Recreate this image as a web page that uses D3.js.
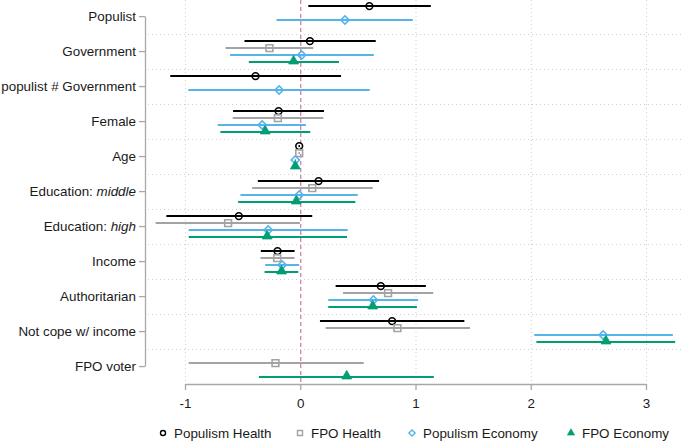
<!DOCTYPE html>
<html>
<head>
<meta charset="utf-8">
<script src="https://cdn.jsdelivr.net/npm/d3@7"></script>
<style>
  html, body { margin: 0; padding: 0; background: #fff; }
  svg { display: block; font-family: "Liberation Sans", Arial, sans-serif; }
</style>
</head>
<body>
<svg id="chart" width="685" height="441"></svg>
<script>
// ---- Data ----
const categories = ["Populist", "Government", "populist # Government", "Female", "Age",
  "Education: middle", "Education: high", "Income", "Authoritarian", "Not cope w/ income", "FPO voter"];
const seriesNames = ["Populism Health", "FPO Health", "Populism Economy", "FPO Economy"];
const xTicks = [-1, 0, 1, 2, 3];

const popHealthEst = [0.600, 0.084, -0.388, -0.188, -0.009, 0.159, -0.533, -0.197, 0.699, 0.797, null];
const popHealthLo  = [0.070, -0.484, -1.128, -0.583, -0.016, -0.368, -1.162, -0.342, 0.307, 0.171, null];
const popHealthHi  = [1.133, 0.655, 0.354, 0.206, -0.002, 0.684, 0.104, -0.049, 1.090, 1.424, null];

const fpoHealthEst = [null, -0.267, null, -0.194, -0.009, 0.104, -0.626, -0.200, 0.762, 0.843, -0.215];
const fpoHealthLo  = [null, -0.649, null, -0.586, -0.016, -0.417, -1.255, -0.345, 0.371, 0.220, -0.968];
const fpoHealthHi  = [null, 0.113, null, 0.200, -0.002, 0.629, -0.003, -0.049, 1.154, 1.473, 0.551];

const popEconEst = [0.388, 0.012, -0.183, -0.330, -0.043, -0.009, -0.278, -0.157, 0.635, 2.628, null];
const popEconLo  = [-0.206, -0.609, -0.971, -0.716, -0.050, -0.519, -0.968, -0.304, 0.243, 2.031, null];
const popEconHi  = [0.977, 0.638, 0.603, 0.049, -0.036, 0.499, 0.412, -0.009, 1.023, 3.233, null];

const fpoEconEst = [null, -0.058, null, -0.304, -0.043, -0.035, -0.287, -0.162, 0.629, 2.653, 0.403];
const fpoEconLo  = [null, -0.446, null, -0.693, -0.050, -0.539, -0.968, -0.310, 0.243, 2.049, -0.359];
const fpoEconHi  = [null, 0.336, null, 0.087, -0.036, 0.478, 0.406, -0.017, 1.012, 3.253, 1.159];

// ---- Series styling (built from data arrays) ----
const seriesDefs = [
  { name: seriesNames[0], est: popHealthEst, lo: popHealthLo, hi: popHealthHi, color: "#000000", sym: d3.symbolCircle, size: 36, fill: false, rot: 0 },
  { name: seriesNames[1], est: fpoHealthEst, lo: fpoHealthLo, hi: fpoHealthHi, color: "#a3a3a3", sym: d3.symbolSquare, size: 46, fill: false, rot: 0 },
  { name: seriesNames[2], est: popEconEst, lo: popEconLo, hi: popEconHi, color: "#56B4E9", sym: d3.symbolSquare, size: 34, fill: false, rot: 45 },
  { name: seriesNames[3], est: fpoEconEst, lo: fpoEconLo, hi: fpoEconHi, color: "#009E73", sym: d3.symbolTriangle, size: 42, fill: true, rot: 0 }
];

const svg = d3.select("#chart");
const plotLeft = 148, plotRight = 683, plotTop = 0, plotBottom = 384;
const fontSize = 13.4;

const x = d3.scaleLinear().domain([-1, 3]).range([185, 646]);
const y = d3.scaleBand().domain(categories).range([-0.9, 384.1]).padding(0);
const sub = d3.scalePoint().domain(seriesNames).range([-10.5, 10.5]);
const yc = c => y(c) + y.bandwidth() / 2;

// ---- Grid ----
const grid = svg.append("g");
grid.selectAll("line.vg").data(xTicks.filter(t => t !== 0)).join("line")
  .attr("x1", d => x(d) + 0.5).attr("x2", d => x(d) + 0.5)
  .attr("y1", plotTop).attr("y2", plotBottom)
  .attr("stroke", "#cfcfcf").attr("stroke-width", 1).attr("stroke-dasharray", "1,3");
grid.selectAll("line.hg").data(categories.slice(1)).join("line")
  .attr("x1", plotLeft).attr("x2", plotRight)
  .attr("y1", d => Math.round(y(d)) + 0.5).attr("y2", d => Math.round(y(d)) + 0.5)
  .attr("stroke", "#cfcfcf").attr("stroke-width", 1).attr("stroke-dasharray", "1,3");

// zero reference line
svg.append("line")
  .attr("x1", x(0) + 0.5).attr("x2", x(0) + 0.5)
  .attr("y1", plotTop).attr("y2", plotBottom)
  .attr("stroke", "#CC79A7").attr("stroke-width", 1.2).attr("stroke-dasharray", "4,3");

// ---- Axes ----
const yAxis = d3.axisLeft(y).tickSize(6).tickSizeOuter(0).tickPadding(3);
const yg = svg.append("g").attr("transform", "translate(145,0)").call(yAxis);
yg.select(".domain").remove();
yg.append("line")
  .attr("x1", 0.5).attr("x2", 0.5)
  .attr("y1", yc(categories[0])).attr("y2", yc(categories[categories.length - 1]))
  .attr("stroke", "#a8a8a8").attr("stroke-width", 1.3);
yg.selectAll(".tick line").attr("stroke", "#a8a8a8").attr("stroke-width", 1.3);
yg.selectAll(".tick text")
  .attr("font-size", fontSize).attr("fill", "#1a1a1a")
  .attr("font-family", "'Liberation Sans', Arial, sans-serif")
  .each(function(d) {
    const t = d3.select(this);
    const m = d.match(/^(Education: )(.*)$/);
    if (m) {
      t.text(null);
      t.append("tspan").text(m[1]);
      t.append("tspan").attr("font-style", "italic").text(m[2]);
    }
  });

const xAxis = d3.axisBottom(x).tickValues(xTicks).tickSize(6).tickSizeOuter(0).tickPadding(8)
  .tickFormat(d => String(d));
const xg = svg.append("g").attr("transform", "translate(0," + plotBottom + ")").call(xAxis);
xg.select(".domain").attr("stroke", "#a8a8a8").attr("stroke-width", 1.3);
xg.selectAll(".tick line").attr("stroke", "#a8a8a8").attr("stroke-width", 1.3);
xg.selectAll(".tick text").attr("font-size", fontSize).attr("fill", "#1a1a1a")
  .attr("font-family", "'Liberation Sans', Arial, sans-serif");

// ---- Estimates ----
const marks = svg.append("g");
seriesDefs.forEach(s => {
  const rows = categories.map((c, i) => ({ c, est: s.est[i], lo: s.lo[i], hi: s.hi[i] }))
    .filter(r => r.est !== null);
  const g = marks.append("g");
  g.selectAll("line").data(rows).join("line")
    .attr("x1", r => x(r.lo)).attr("x2", r => x(r.hi))
    .attr("y1", r => yc(r.c) + sub(s.name)).attr("y2", r => yc(r.c) + sub(s.name))
    .attr("stroke", s.color).attr("stroke-width", 2);
  g.selectAll("path").data(rows).join("path")
    .attr("d", d3.symbol().type(s.sym).size(s.size))
    .attr("transform", r => `translate(${x(r.est)},${yc(r.c) + sub(s.name) + (s.sym === d3.symbolTriangle ? -1 : 0)}) rotate(${s.rot})`)
    .attr("fill", s.fill ? s.color : "none")
    .attr("stroke", s.color)
    .attr("stroke-width", s.fill ? 0.8 : 1.6);
});

// ---- Legend ----
const legendX = [163, 300, 412, 571];
const leg = svg.append("g");
seriesDefs.forEach((s, i) => {
  const lg = leg.append("g").attr("transform", `translate(${legendX[i]},433)`);
  lg.append("path")
    .attr("d", d3.symbol().type(s.sym).size(s.size * 0.55))
    .attr("transform", `rotate(${s.rot})`)
    .attr("fill", s.fill ? s.color : "none")
    .attr("stroke", s.color)
    .attr("stroke-width", s.fill ? 0.6 : 1.4);
  lg.append("text")
    .attr("x", 11).attr("y", 5)
    .attr("font-size", fontSize).attr("fill", "#1a1a1a")
    .text(s.name);
});
</script>
</body>
</html>
